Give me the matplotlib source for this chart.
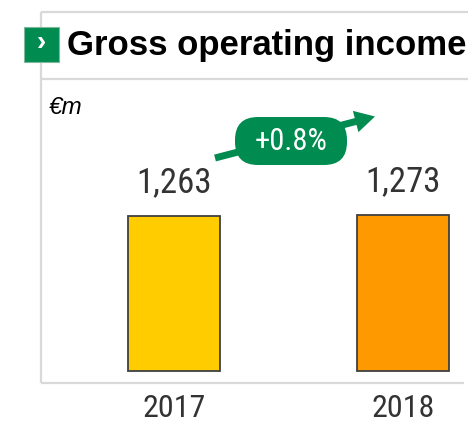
import matplotlib.pyplot as plt
from matplotlib.patches import FancyBboxPatch, FancyArrow, Rectangle

years = ['2017', '2018']
income = [1263, 1273]
labels = ['1,263', '1,273']
change = '+0.8%'
bar_colors = ['#FFCC00', '#FF9900']
green = '#008C50'
frame = '#D9D9D9'
cond = 'Roboto Condensed'

W, H = 468, 422
fig = plt.figure(figsize=(W / 100, H / 100), dpi=100)

# overlay in pixel units (origin top-left) for frame, title and badge
pix = fig.add_axes([0, 0, 1, 1], zorder=3)
pix.set_xlim(0, W)
pix.set_ylim(H, 0)
pix.axis('off')

for xs, ys in [((41, 468), (12, 12)), ((41, 468), (79, 79)),
               ((41, 41), (12, 383)), ((41, 464), (383, 383))]:
    pix.plot(xs, ys, color=frame, lw=1.6, solid_capstyle='butt', zorder=1)

# title with green marker
pix.add_patch(Rectangle((24, 27), 35, 35, fc=green, ec='#7FB89A', lw=0.8,
                        zorder=3))
pix.text(41.5, 43, '›', color='white', fontsize=20, fontweight='bold',
         ha='center', va='center', family='Liberation Sans', zorder=4)
pix.text(67, 46, 'Gross operating income', fontsize=25, fontweight='bold',
         ha='left', va='center', family='Liberation Sans')
pix.text(49, 108, '€m', fontsize=17.5, style='italic', ha='left',
         va='center', family='Liberation Sans')

# growth arrow and badge
pix.add_patch(FancyArrow(215, 158, 160, -41.5, width=7, head_width=22,
                         head_length=20, length_includes_head=True,
                         fc=green, ec='none', zorder=3))
pix.add_patch(FancyBboxPatch((235, 117), 112, 48,
                             boxstyle='round,pad=0,rounding_size=23',
                             fc=green, ec='none', zorder=3))
pix.text(291, 142, change, fontsize=22, color='white', ha='center',
         va='center', family=cond, zorder=4)

# bar axes
ax = fig.add_axes([41 / W, 1 - 383 / H, (464 - 41) / W, (383 - 79) / H])
x = [0, 1]
ax.bar(x, income, width=0.40, color=bar_colors, edgecolor='#404040', lw=1.3)
ax.set_xlim(-0.581, 1.266)
ax.set_ylim(-98, 2380)
for xi, v, lab in zip(x, income, labels):
    ax.annotate(lab, (xi, v), xytext=(0, 12), textcoords='offset points',
                ha='center', va='bottom', fontsize=25, color='#333333',
                family=cond)
ax.set_xticks(x)
ax.set_xticklabels(years, fontsize=23, color='#333333', family=cond)
ax.tick_params(axis='x', length=0, pad=8)
ax.set_yticks([])
for s in ax.spines.values():
    s.set_visible(False)
ax.patch.set_alpha(0)

fig.savefig('out.png', dpi=100)
